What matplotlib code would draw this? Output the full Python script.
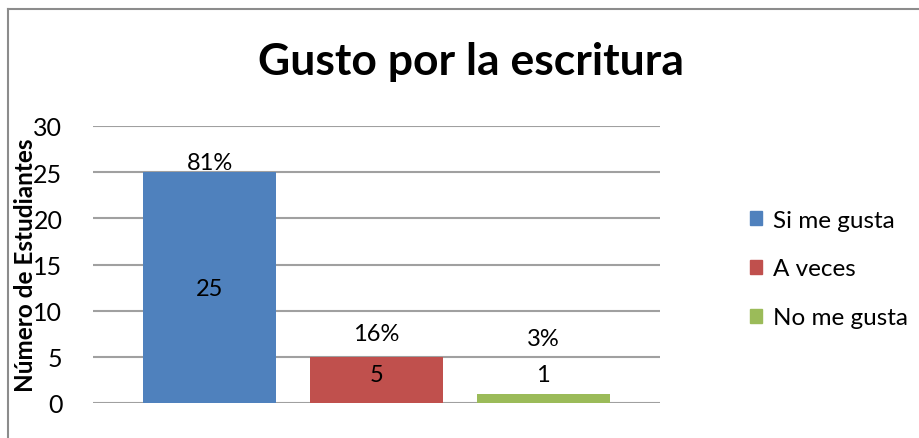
import matplotlib.pyplot as plt
from matplotlib.patches import Rectangle
from matplotlib.lines import Line2D

plt.rcParams['font.family'] = ['Lato', 'DejaVu Sans']

# Data
categorias = ['Si me gusta', 'A veces', 'No me gusta']
estudiantes = [25, 5, 1]
porcentajes = ['81%', '16%', '3%']
colores = ['#4F81BD', '#C0504D', '#9BBB59']

# label heights (data units) as placed in the original
pos_valor = [12.4, 3.1, 3.1]
pos_pct = [26.1, 7.5, 7.0]

fig = plt.figure(figsize=(9.2, 4.39), dpi=100)
ax = fig.add_axes([93 / 920, 35 / 439, 567 / 920, 277 / 439])

x = range(len(categorias))
bars = ax.bar(x, estudiantes, width=0.80, color=colores, zorder=3)

for i, b in enumerate(bars):
    ax.text(b.get_x() + b.get_width() / 2, pos_valor[i], str(estudiantes[i]),
            ha='center', va='center', fontsize=17, zorder=4)
    ax.text(b.get_x() + b.get_width() / 2, pos_pct[i], porcentajes[i],
            ha='center', va='center', fontsize=17, zorder=4)

ax.set_xlim(-0.70, 2.70)
ax.set_ylim(0, 30)
ax.set_yticks(range(0, 31, 5))
ax.set_xticks([])
ax.yaxis.grid(True, color='#A0A0A0', linewidth=1.5, zorder=0)
ax.tick_params(axis='y', length=0, labelsize=18, pad=22)
for s in ax.spines.values():
    s.set_visible(False)

ax.set_ylabel('Número de Estudiantes', fontsize=17.5, fontweight='bold')
ax.yaxis.set_label_coords(-0.099, 0.5)

fig.text(471 / 920, 1 - 62 / 439, 'Gusto por la escritura', ha='center', va='center',
         fontsize=32, fontweight='bold')

handles = [Rectangle((0, 0), 1, 1, color=c) for c in colores]
fig.legend(handles, categorias, loc='center left', bbox_to_anchor=(728 / 920, 1 - 270 / 439),
           frameon=False, fontsize=17.5, handlelength=0.5, handleheight=0.5,
           handletextpad=0.45, labelspacing=1.15)

# chart border (top and left visible)
fig.add_artist(Line2D([8 / 920, 1], [1 - 10 / 439, 1 - 10 / 439], color='#8C8C8C', linewidth=1.5))
fig.add_artist(Line2D([8 / 920, 8 / 920], [0, 1 - 10 / 439], color='#8C8C8C', linewidth=1.5))

fig.savefig('out.png', dpi=100)
